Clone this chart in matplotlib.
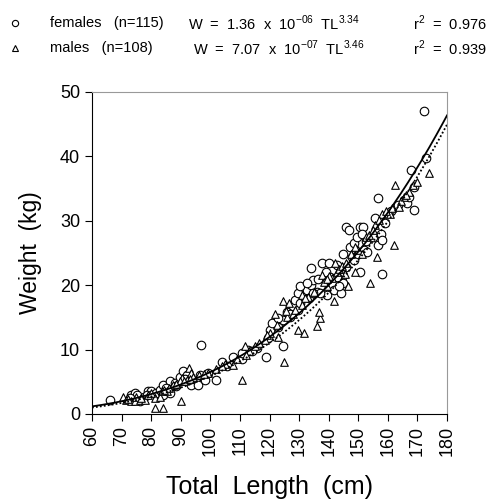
import numpy as np
import matplotlib
matplotlib.use("Agg")
import matplotlib.pyplot as plt

plt.rcParams['font.family'] = ['Liberation Sans', 'DejaVu Sans']
plt.rcParams['mathtext.fontset'] = 'custom'
plt.rcParams['mathtext.rm'] = 'Liberation Sans'

# females (circles): total length (cm), weight (kg)
female_tl = [66.2, 73.3, 74.5, 75.2, 73.9, 76.1, 72.8, 79.0, 80.1, 81.8, 82.9, 84.0, 84.0,
             86.3, 86.3, 88.0, 89.7, 90.8, 92.0, 93.6, 95.9, 97.0, 98.2, 99.3, 101.9, 103.8,
             107.8, 110.6, 112.9, 110.6, 118.8, 119.6, 120.2, 123.0, 124.7, 124.5, 125.8,
             127.0, 128.0, 128.6, 129.8, 130.3, 131.5, 132.6, 134.0, 134.0, 134.8, 136.0,
             137.6, 140.0, 138.8, 139.4, 140.5, 141.7, 142.8, 144.0, 144.4, 145.0, 145.0,
             145.9, 147.0, 147.3, 147.8, 148.4, 149.5, 150.6, 151.5, 151.2, 151.8, 150.6,
             153.0, 155.0, 155.7, 156.8, 156.8, 157.6, 158.0, 158.0, 159.0, 165.3, 166.4,
             167.0, 167.8, 169.0, 169.0, 172.1, 173.0, 115.7, 121.0, 127.0, 129.8, 133.2,
             137.0, 142.8, 143.4, 146.0, 148.4, 150.0, 134.8, 130.3, 132.6, 123.0, 77.5,
             78.5, 85.0, 88.5, 91.5, 96.5, 105.5, 114.0, 136.5, 139.0, 152.5, 161.0, 163.5]
female_w = [2.2, 3.0, 3.25, 3.0, 2.2, 2.0, 2.5, 3.5, 3.5, 3.25, 3.8, 3.0, 4.5,
            5.1, 3.25, 4.8, 5.8, 6.6, 6.1, 4.5, 4.5, 10.7, 5.3, 6.4, 5.3, 8.0,
            8.9, 8.5, 10.0, 9.5, 8.9, 11.8, 13.1, 13.5, 10.5, 14.6, 15.9,
            15.1, 16.7, 17.7, 16.2, 17.2, 18.2, 19.3, 22.6, 20.0, 20.8, 19.0,
            23.5, 23.5, 20.8, 18.5, 21.3, 19.3, 23.1, 18.8, 21.3, 20.3, 24.9,
            29.1, 28.6, 26.0, 24.4, 26.5, 27.5, 29.1, 29.1, 28.0, 25.5, 22.1,
            25.2, 27.5, 30.4, 33.5, 26.2, 28.0, 27.0, 21.8, 29.6, 33.2, 32.7,
            33.7, 37.9, 35.3, 31.7, 47.1, 39.8, 10.2, 14.2, 15.6, 18.8, 18.0,
            18.8, 21.3, 19.8, 22.9, 23.9, 24.9, 18.8, 19.8, 20.3, 14.9, 2.6,
            3.0, 4.0, 4.4, 5.5, 6.0, 7.5, 9.8, 21.0, 22.0, 26.8, 31.5, 32.5]

# males (triangles)
male_tl = [70.5, 71.6, 73.3, 74.5, 76.1, 77.8, 81.2, 84.0, 81.2, 82.9, 85.2, 87.4, 90.0,
           90.3, 92.0, 92.9, 93.6, 94.2, 89.7, 99.3, 107.8, 110.6, 111.7, 115.1, 118.5,
           121.9, 123.0, 124.7, 124.9, 126.7, 128.0, 129.8, 130.9, 131.5, 136.0, 137.1,
           136.6, 137.7, 139.4, 141.1, 141.7, 142.8, 145.6, 146.4, 148.9, 150.0, 151.2,
           154.0, 155.7, 156.3, 158.0, 160.8, 162.0, 162.5, 163.7, 165.3, 173.8, 72.0,
           75.0, 79.0, 83.5, 86.0, 88.5, 91.0, 96.0, 102.0, 105.0, 109.0, 113.0, 116.5,
           120.0, 122.5, 126.0, 128.5, 131.0, 133.0, 135.0, 138.5, 140.0, 143.5, 144.5,
           147.5, 149.0, 152.5, 157.0, 159.5, 161.5, 164.5, 167.0, 168.5, 170.0, 76.5,
           80.0, 84.5, 93.0, 98.0, 104.0, 112.0, 119.0, 125.5, 132.0, 139.5, 146.0,
           153.5, 155.0, 166.0, 142.0]
male_w = [2.7, 2.2, 2.0, 2.0, 2.2, 2.2, 0.9, 0.9, 2.5, 2.7, 3.5, 4.5, 2.0,
          5.6, 5.3, 7.1, 6.4, 5.8, 5.1, 6.4, 7.6, 5.3, 10.5, 10.5, 11.5,
          15.6, 12.0, 17.5, 8.0, 17.2, 15.6, 13.1, 18.5, 12.6, 13.6, 14.9,
          15.9, 21.6, 19.8, 21.1, 17.5, 22.1, 21.8, 19.8, 22.1, 25.5, 24.9,
          20.3, 29.3, 24.4, 31.1, 31.1, 26.2, 35.5, 32.2, 33.7, 37.4, 2.4,
          2.6, 3.0, 3.6, 4.0, 4.6, 5.2, 6.0, 7.0, 7.8, 8.6, 9.8, 11.0,
          12.6, 13.8, 15.0, 16.2, 17.0, 18.2, 19.0, 20.5, 21.5, 22.5, 23.0,
          24.8, 26.0, 27.5, 30.2, 31.5, 32.0, 33.0, 34.5, 35.5, 36.0, 2.5,
          3.2, 3.8, 5.5, 6.2, 7.5, 9.2, 12.2, 16.0, 18.0, 21.0, 23.5,
          27.8, 28.5, 34.0, 23.5]

# regression parameters
f_a, f_b = 1.36e-06, 3.34
m_a, m_b = 7.07e-07, 3.46

fig = plt.figure(figsize=(4.95, 5.04), dpi=100)
ax = fig.add_axes([92 / 495, 1 - 414 / 504, 355 / 495, 322 / 504])

ax.scatter(female_tl, female_w, marker='o', s=38, facecolors='white',
           edgecolors='black', linewidths=0.8, zorder=3)
ax.scatter(male_tl, male_w, marker='^', s=30, facecolors='white',
           edgecolors='black', linewidths=0.8, zorder=3)

tl = np.linspace(60, 180, 200)
ax.plot(tl, f_a * tl ** f_b, color='black', lw=1.3, zorder=4)
ax.plot(tl, m_a * tl ** m_b, color='black', lw=1.3, ls=(0, (1, 1.2)), zorder=4)

ax.set_xlim(60, 180)
ax.set_ylim(0, 50)
ax.set_xticks(range(60, 181, 10))
ax.set_yticks(range(0, 51, 10))
ax.tick_params(axis='x', labelrotation=90, labelsize=13, direction='out', length=5)
ax.tick_params(axis='y', labelsize=13, direction='out', length=5)
for s in ['top', 'right']:
    ax.spines[s].set_color('#999999')
    ax.spines[s].set_linewidth(0.8)

ax.set_ylabel('Weight  (kg)', fontsize=16.5)
ax.yaxis.set_label_coords(-0.14, 0.5)
ax.set_xlabel('Total  Length  (cm)', fontsize=18)
ax.xaxis.set_label_coords(0.5, -0.19)

# legend at top
fs = 10.5
row1, row2 = 1 - 23 / 504, 1 - 48 / 504
ax.plot([15 / 495], [row1], marker='o', ms=4.5, mfc='white', mec='black', mew=0.8,
        transform=fig.transFigure, clip_on=False)
ax.plot([15 / 495], [row2], marker='^', ms=4.5, mfc='white', mec='black', mew=0.8,
        transform=fig.transFigure, clip_on=False)
fig.text(50 / 495, row1, 'females   (n=115)', fontsize=fs, va='center')
fig.text(50 / 495, row2, 'males   (n=108)', fontsize=fs, va='center')
fig.text(188 / 495, row1, r'W  =  1.36  x  10$^{-06}$  TL$^{3.34}$', fontsize=fs, va='center')
fig.text(193 / 495, row2, r'W  =  7.07  x  10$^{-07}$  TL$^{3.46}$', fontsize=fs, va='center')
fig.text(413 / 495, row1, r'r$^2$  =  0.976', fontsize=fs, va='center')
fig.text(413 / 495, row2, r'r$^2$  =  0.939', fontsize=fs, va='center')

fig.savefig('out.png', dpi=100)
